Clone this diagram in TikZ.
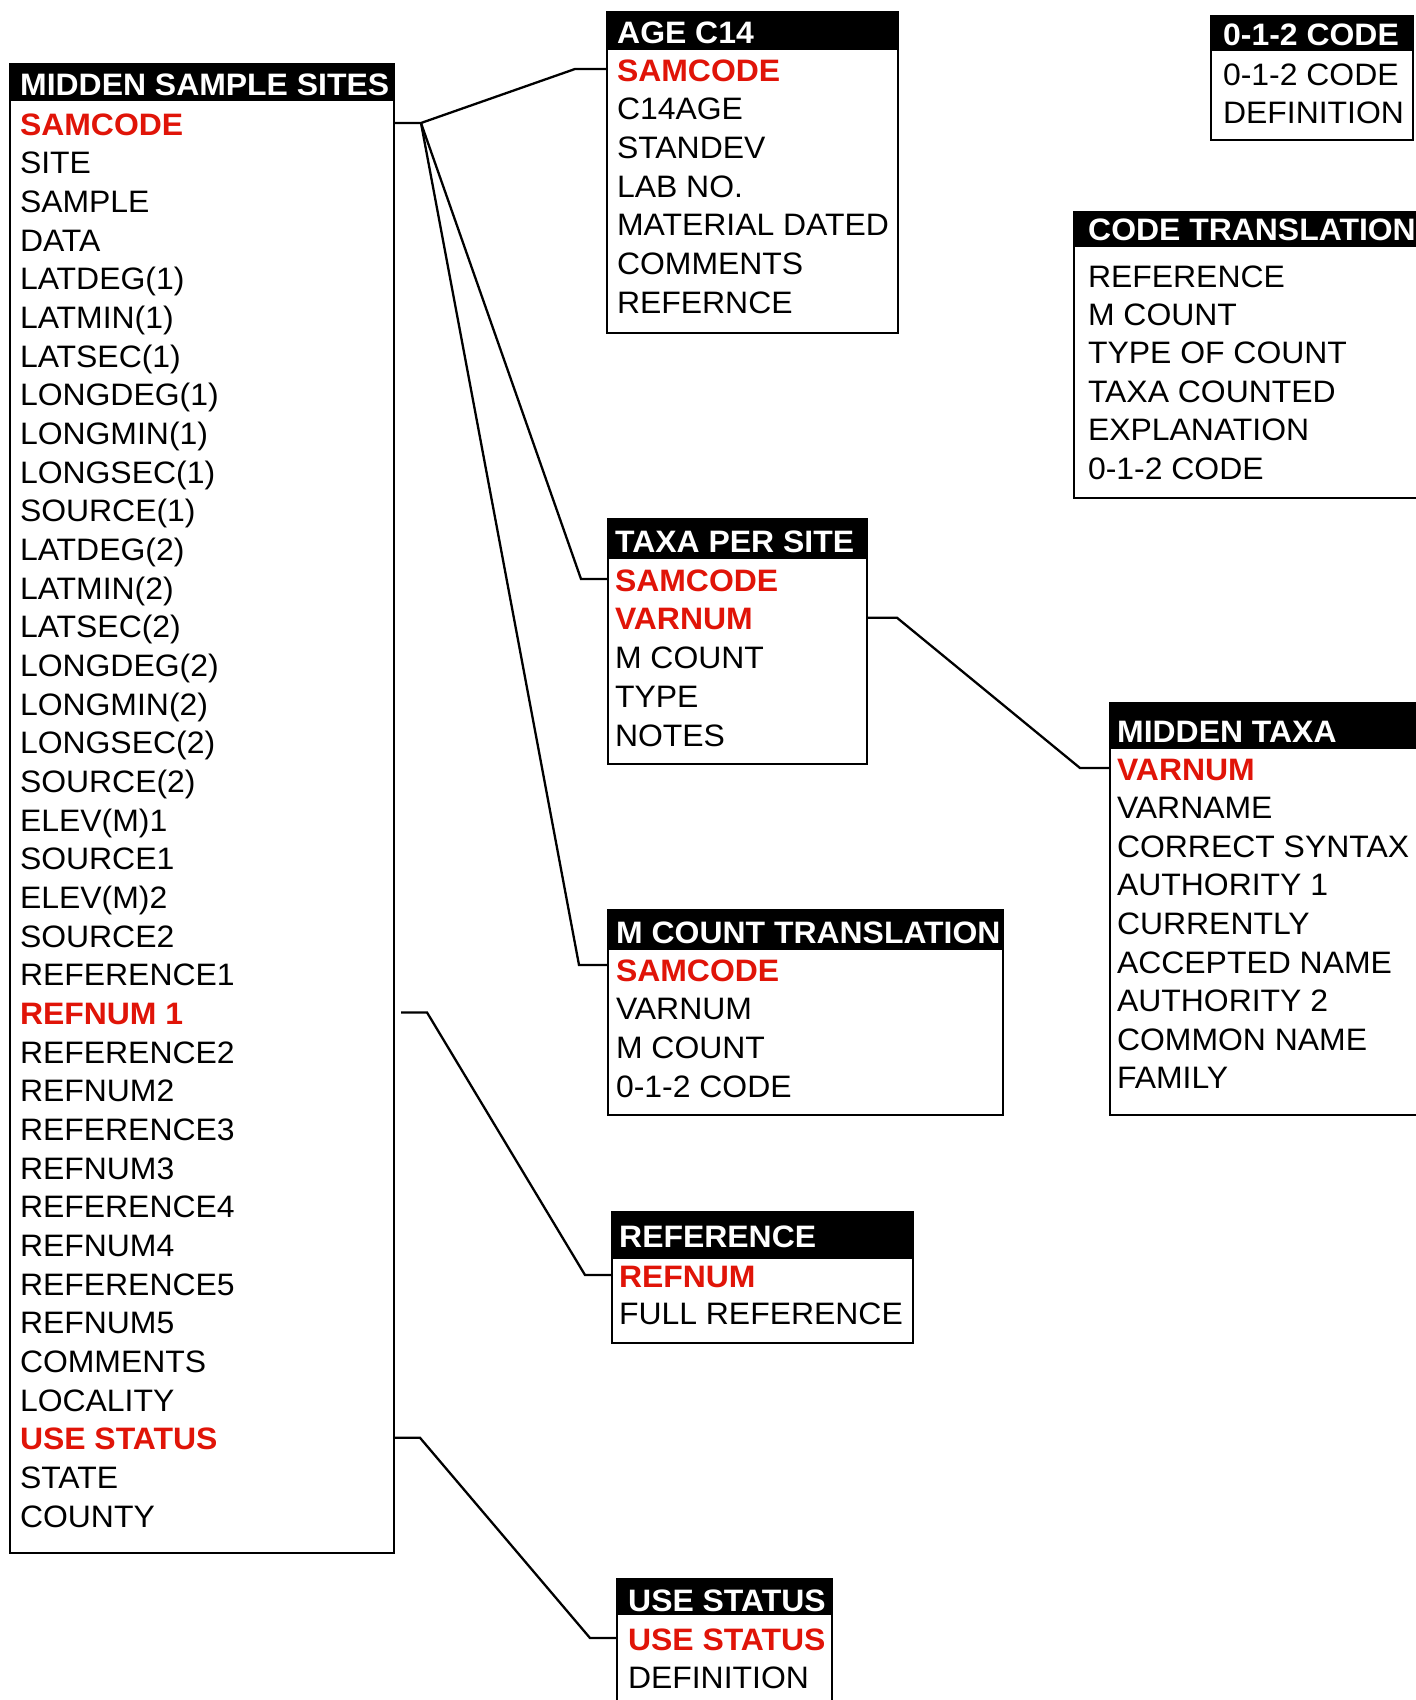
\documentclass[tikz,border=0pt]{standalone}
\usepackage{fontspec}
\setmainfont{Liberation Sans}[FakeStretch=1.03]
\usetikzlibrary{calc}
\definecolor{keyred}{RGB}{224,20,8}
\newcommand\kf{\bfseries\color{keyred}}
\tikzset{
  frame/.style={draw=black, line width=2.6pt, inner sep=0pt, outer sep=0pt, anchor=north west},
  hdr/.style={fill=black, inner sep=0pt, outer sep=0pt, anchor=north west},
  ttl/.style={text=white, font=\fontsize{31pt}{36pt}\selectfont\bfseries, inner sep=0pt, anchor=base west},
  row/.style={inner sep=0pt, outer sep=0pt, text height=24pt, text depth=0pt, anchor=base west},
  conn/.style={line width=2.3pt, line join=miter},
}
% name, left, top, right, bottom, header bottom, title, title baseline, text x
\newcommand\dbbox[9]{%
  \node[hdr, minimum width={(#4-#2)*1pt}, minimum height={(#6-#3)*1pt}] (#1-h) at (#2,#3) {};
  \node[frame, minimum width={(#4-#2)*1pt}, minimum height={(#5-#3)*1pt}] (#1) at (#2,#3) {};
  \node[ttl] (#1-t) at (#9,#8) {#7};
}
% name, text x, first baseline, pitch, rows
\newcommand\dbrows[5]{%
  \foreach \t [count=\i from 0] in {#5} {\node[row] (#1-r\i) at (#2,{#3+\i*#4}) {\t};}
}
\begin{document}
\begin{tikzpicture}[x=1pt, y=-1pt, font=\fontsize{31pt}{36pt}\selectfont]
\useasboundingbox (0,0) rectangle (1416,1700);
\clip (0,0) rectangle (1416,1700);

% MIDDEN SAMPLE SITES
\dbbox{mss}{10}{64}{394}{1553}{101}{MIDDEN SAMPLE SITES}{95}{20}
\dbrows{mss}{20}{135}{38.67}{{\kf SAMCODE}, SITE, SAMPLE, DATA, LATDEG(1), LATMIN(1), LATSEC(1), LONGDEG(1), LONGMIN(1), LONGSEC(1), SOURCE(1), LATDEG(2), LATMIN(2), LATSEC(2), LONGDEG(2), LONGMIN(2), LONGSEC(2), SOURCE(2), ELEV(M)1, SOURCE1, ELEV(M)2, SOURCE2, REFERENCE1, {\kf REFNUM 1}, REFERENCE2, REFNUM2, REFERENCE3, REFNUM3, REFERENCE4, REFNUM4, REFERENCE5, REFNUM5, COMMENTS, LOCALITY, {\kf USE STATUS}, STATE, COUNTY}

% AGE C14
\dbbox{age}{607}{12}{898}{333}{50}{AGE C14}{43}{617}
\dbrows{age}{617}{81}{38.67}{{\kf SAMCODE}, C14AGE, STANDEV, LAB NO., MATERIAL DATED, COMMENTS, REFERNCE}

% 0-1-2 CODE
\dbbox{ozt}{1211}{16}{1413}{140}{51}{0-1-2 CODE}{45}{1223}
\dbrows{ozt}{1223}{85}{38.67}{0-1-2 CODE, DEFINITION}

% CODE TRANSLATION
\dbbox{ct}{1074}{212}{1430}{498}{247}{CODE TRANSLATION}{240}{1088}
\dbrows{ct}{1088}{287}{38.4}{REFERENCE, M COUNT, TYPE OF COUNT, TAXA COUNTED, EXPLANATION, 0-1-2 CODE}

% TAXA PER SITE
\dbbox{taxa}{608}{519}{867}{764}{559}{TAXA PER SITE}{552}{615}
\dbrows{taxa}{615}{591}{38.75}{{\kf SAMCODE}, {\kf VARNUM}, M COUNT, TYPE, NOTES}

% MIDDEN TAXA
\dbbox{mt}{1110}{703}{1430}{1115}{749}{MIDDEN TAXA}{742}{1117}
\dbrows{mt}{1117}{780}{38.6}{{\kf VARNUM}, VARNAME, CORRECT SYNTAX, AUTHORITY 1, CURRENTLY, ACCEPTED NAME, AUTHORITY 2, COMMON NAME, FAMILY}

% M COUNT TRANSLATION
\dbbox{mct}{608}{910}{1003}{1115}{950}{M COUNT TRANSLATION}{943}{616}
\dbrows{mct}{616}{981}{38.7}{{\kf SAMCODE}, VARNUM, M COUNT, 0-1-2 CODE}

% REFERENCE
\dbbox{ref}{612}{1212}{913}{1343}{1259}{REFERENCE}{1247}{619}
\dbrows{ref}{619}{1287}{37.5}{{\kf REFNUM}, FULL REFERENCE}

% USE STATUS
\dbbox{us}{617}{1579}{832}{1720}{1615}{USE STATUS}{1611}{628}
\dbrows{us}{628}{1650}{38}{{\kf USE STATUS}, DEFINITION}

% connectors
\coordinate (fan) at ($(mss.east |- mss-r0.center)+(27,0)$);
\draw[conn] (mss.east |- mss-r0.center) -- (fan)
  -- ($(age.west |- age-r0.center)+(-32,0)$) -- (age.west |- age-r0.center);
\draw[conn] (fan) -- ($(taxa.west |- taxa-r0.center)+(-27,0)$) -- (taxa.west |- taxa-r0.center);
\draw[conn] (fan) -- ($(mct.west |- mct-r0.center)+(-29,-4)$) -- ($(mct.west |- mct-r0.center)+(0,-4)$);
\draw[conn] (taxa.east |- taxa-r1.center) -- ++(30,0)
  -- ($(mt.west |- mt-r0.center)+(-30,0)$) -- (mt.west |- mt-r0.center);
\draw[conn] ($(mss.east |- mss-r23.center)+(7,0)$) -- ($(mss.east |- mss-r23.center)+(33,0)$)
  -- ($(ref.west |- ref-r0.center)+(-27,0)$) -- (ref.west |- ref-r0.center);
\draw[conn] (mss.east |- mss-r34.center) -- ++(26,0)
  -- ($(us.west |- us-r0.center)+(-27,0)$) -- (us.west |- us-r0.center);
\end{tikzpicture}
\end{document}
